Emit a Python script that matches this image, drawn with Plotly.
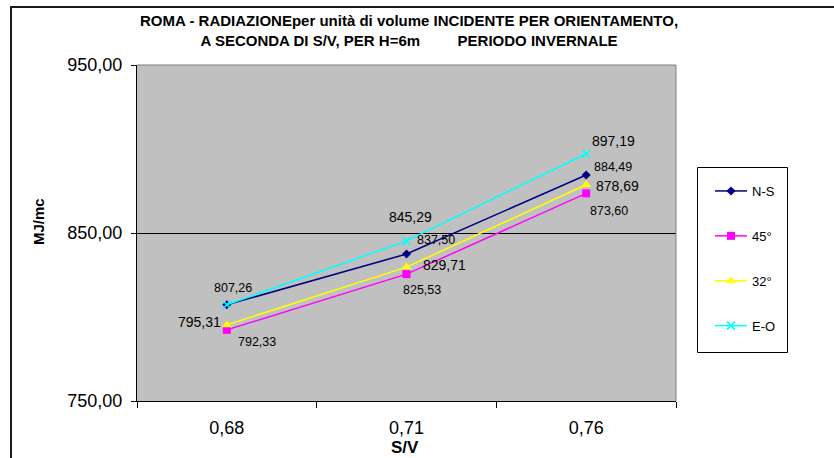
import plotly.graph_objects as go

categories = ["0,68", "0,71", "0,76"]
series_names = ["N-S", "45°", "32°", "E-O"]
ns_values = [807.26, 837.50, 884.49]
d45_values = [792.33, 825.53, 873.60]
d32_values = [795.31, 829.71, 878.69]
eo_values = [807.26, 845.29, 897.19]
y_ticks = [750, 850, 950]

values = [ns_values, d45_values, d32_values, eo_values]
colors = ["#000080", "#FF00FF", "#FFFF00", "#00FFFF"]
symbols = ["diamond", "square", "triangle-up", "x-thin"]
msizes = [7, 8, 9, 8]

# label offsets (px) per series/point ; None = no label
label_offsets = [
    [(6, -17), (29, -14), (27, -8)],
    [(30, 12), (15, 16), (23, 18)],
    [(-27, -3), (38, -2), (31, 1)],
    [None, (4, -24), (27, -13)],
]
label_sizes = [12.5, 12.5, 14, 14]

FONT = "Liberation Sans, Arial, sans-serif"
W, H = 834, 458
L, R, T, B = 137, 158, 65, 57
PW, PH = W - L - R, H - T - B


def px_x(px):
    return (px - L) / PW


def px_y(py):
    return (H - B - py) / PH


fig = go.Figure()
for i, name in enumerate(series_names):
    marker = dict(symbol=symbols[i], size=msizes[i], color=colors[i])
    if symbols[i] == "x-thin":
        marker["line"] = dict(color=colors[i], width=1.5)
    else:
        marker["line"] = dict(width=0)
    fig.add_trace(go.Scatter(
        x=categories, y=values[i], name=name, mode="lines+markers",
        line=dict(color=colors[i], width=1.5), marker=marker,
        legendgroup=name,
    ))

annotations = []
for i in range(len(series_names)):
    for j, c in enumerate(categories):
        off = label_offsets[i][j]
        if off is None:
            continue
        annotations.append(dict(
            x=c, y=values[i][j], xref="x", yref="y",
            text=f"{values[i][j]:.2f}".replace(".", ","),
            showarrow=False, xshift=off[0], yshift=-off[1],
            font=dict(family=FONT, size=label_sizes[i], color="black"),
        ))

# titles
annotations.append(dict(
    text="<b>ROMA - RADIAZIONEper unità di volume INCIDENTE PER ORIENTAMENTO,<br>"
         "A SECONDA DI S/V, PER H=6m" + "\u00a0" * 9 + "PERIODO INVERNALE</b>",
    xref="paper", yref="paper", x=px_x(409), y=px_y(31),
    xanchor="center", yanchor="middle", showarrow=False,
    font=dict(family=FONT, size=15, color="black"),
))
annotations.append(dict(
    text="<b>MJ/mc</b>", xref="paper", yref="paper", x=px_x(38), y=px_y(222),
    xanchor="center", yanchor="middle", showarrow=False, textangle=-90,
    font=dict(family=FONT, size=15, color="black"),
))
annotations.append(dict(
    text="<b>S/V</b>", xref="paper", yref="paper", x=px_x(405), y=px_y(447),
    xanchor="center", yanchor="middle", showarrow=False,
    font=dict(family=FONT, size=17, color="black"),
))

shapes = [
    # plot area top and right border
    dict(type="line", xref="paper", yref="paper", x0=0, x1=1, y0=1, y1=1,
         line=dict(color="#808080", width=1), layer="above"),
    dict(type="line", xref="paper", yref="paper", x0=1, x1=1, y0=0, y1=1,
         line=dict(color="#808080", width=1), layer="above"),
    # legend box
    dict(type="rect", xref="paper", yref="paper", x0=px_x(697.5), x1=px_x(787.5),
         y0=px_y(352.5), y1=px_y(167.5), line=dict(color="black", width=1)),
    # outer chart frame
    dict(type="rect", xref="paper", yref="paper", x0=px_x(11), x1=px_x(900),
         y0=px_y(520), y1=px_y(7), line=dict(color="#1a1a1a", width=2)),
]

fig.update_layout(
    width=W, height=H,
    margin=dict(l=L, r=R, t=T, b=B, pad=0),
    paper_bgcolor="white", plot_bgcolor="#C0C0C0",
    separators=",.",
    font=dict(family=FONT, color="black"),
    xaxis=dict(
        type="category", range=[-0.5, 2.5], tickson="boundaries", ticks="outside",
        ticklen=6, tickcolor="black", showline=True, linecolor="black", linewidth=1,
        showgrid=False, tickfont=dict(family=FONT, size=18, color="black"),
        ticklabelstandoff=10,
    ),
    yaxis=dict(
        range=[750, 950], tickvals=y_ticks, tickformat=".2f", ticks="outside",
        ticklen=5, tickcolor="black", showline=True, linecolor="black", linewidth=1,
        showgrid=True, gridcolor="black", gridwidth=1, zeroline=False,
        tickfont=dict(family=FONT, size=18, color="black"),
        ticklabelstandoff=5,
    ),
    legend=dict(
        x=px_x(710), xanchor="left", y=px_y(176), yanchor="top",
        bgcolor="rgba(0,0,0,0)", borderwidth=0,
        font=dict(family=FONT, size=13, color="black"),
        tracegroupgap=25, itemwidth=32,
    ),
    showlegend=True,
    annotations=annotations,
    shapes=shapes,
)

fig.write_html("out.html")
